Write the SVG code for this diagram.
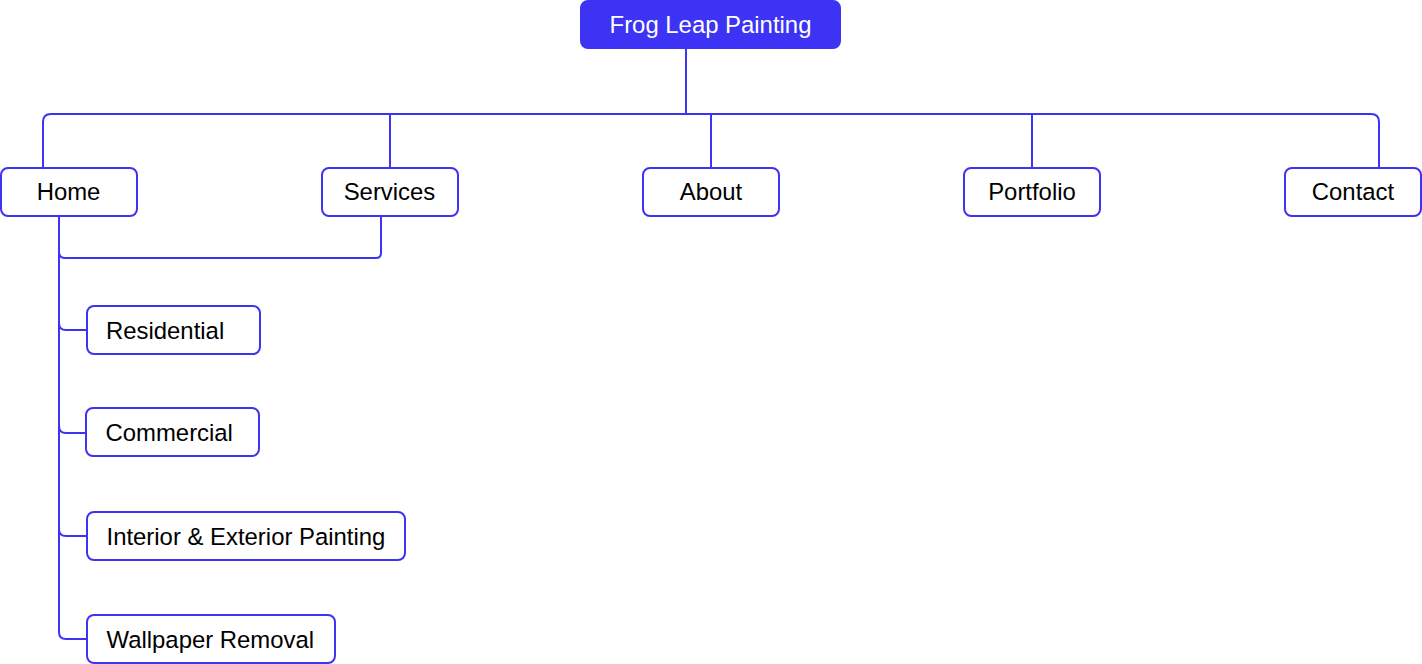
<svg xmlns="http://www.w3.org/2000/svg" width="1422" height="664" viewBox="0 0 1422 664">
<style>
.edge{fill:none;stroke:#3d33f4;stroke-width:2}
.box{fill:#ffffff;stroke:#3d33f4;stroke-width:2}
.root{fill:#3d33f4;stroke:#3d33f4;stroke-width:2}
text{font-family:"Liberation Sans",Arial,sans-serif;font-size:23.9px;fill:#000000}
.c{text-anchor:middle}
.w{fill:#ffffff}
</style>
<rect width="1422" height="664" fill="#ffffff"/>
<g id="connectors">
<path class="edge" d="M686 49 V114 H51 Q43 114 43 122 V168"/>
<path class="edge" d="M686 114 H1371 Q1379 114 1379 122 V168"/>
<path class="edge" d="M390 114 V168"/>
<path class="edge" d="M711 114 V168"/>
<path class="edge" d="M1032 114 V168"/>
<path class="edge" d="M381 216 V253 Q381 258 376 258 H65 Q59 258 59 252 V216"/>
<path class="edge" d="M59 216 V323 Q59 330 66 330 H87"/>
<path class="edge" d="M59 216 V426 Q59 433 66 433 H86"/>
<path class="edge" d="M59 216 V529 Q59 536 66 536 H87"/>
<path class="edge" d="M59 216 V632 Q59 639 66 639 H87"/>
</g>
<g id="node-root">
<rect class="root" x="581" y="1" width="259" height="47" rx="7"/>
<text class="c w" x="710.5" y="33">Frog Leap Painting</text>
</g>
<g id="node-home">
<rect class="box" x="1" y="168" width="136" height="48" rx="7"/>
<text class="c" x="68.5" y="200">Home</text>
</g>
<g id="node-services">
<rect class="box" x="322" y="168" width="136" height="48" rx="7"/>
<text class="c" x="389.5" y="200">Services</text>
</g>
<g id="node-about">
<rect class="box" x="643" y="168" width="136" height="48" rx="7"/>
<text class="c" x="711" y="200">About</text>
</g>
<g id="node-portfolio">
<rect class="box" x="964" y="168" width="136" height="48" rx="7"/>
<text class="c" x="1032" y="200">Portfolio</text>
</g>
<g id="node-contact">
<rect class="box" x="1285" y="168" width="136" height="48" rx="7"/>
<text class="c" x="1353" y="200">Contact</text>
</g>
<g id="node-residential">
<rect class="box" x="87" y="306" width="173" height="48" rx="7"/>
<text x="106" y="339">Residential</text>
</g>
<g id="node-commercial">
<rect class="box" x="86" y="408" width="173" height="48" rx="7"/>
<text x="105.5" y="441">Commercial</text>
</g>
<g id="node-interior">
<rect class="box" x="87" y="512" width="318" height="48" rx="7"/>
<text x="106.5" y="545">Interior &amp; Exterior Painting</text>
</g>
<g id="node-wallpaper">
<rect class="box" x="87" y="615" width="248" height="48" rx="7"/>
<text x="106.5" y="648">Wallpaper Removal</text>
</g>
</svg>
